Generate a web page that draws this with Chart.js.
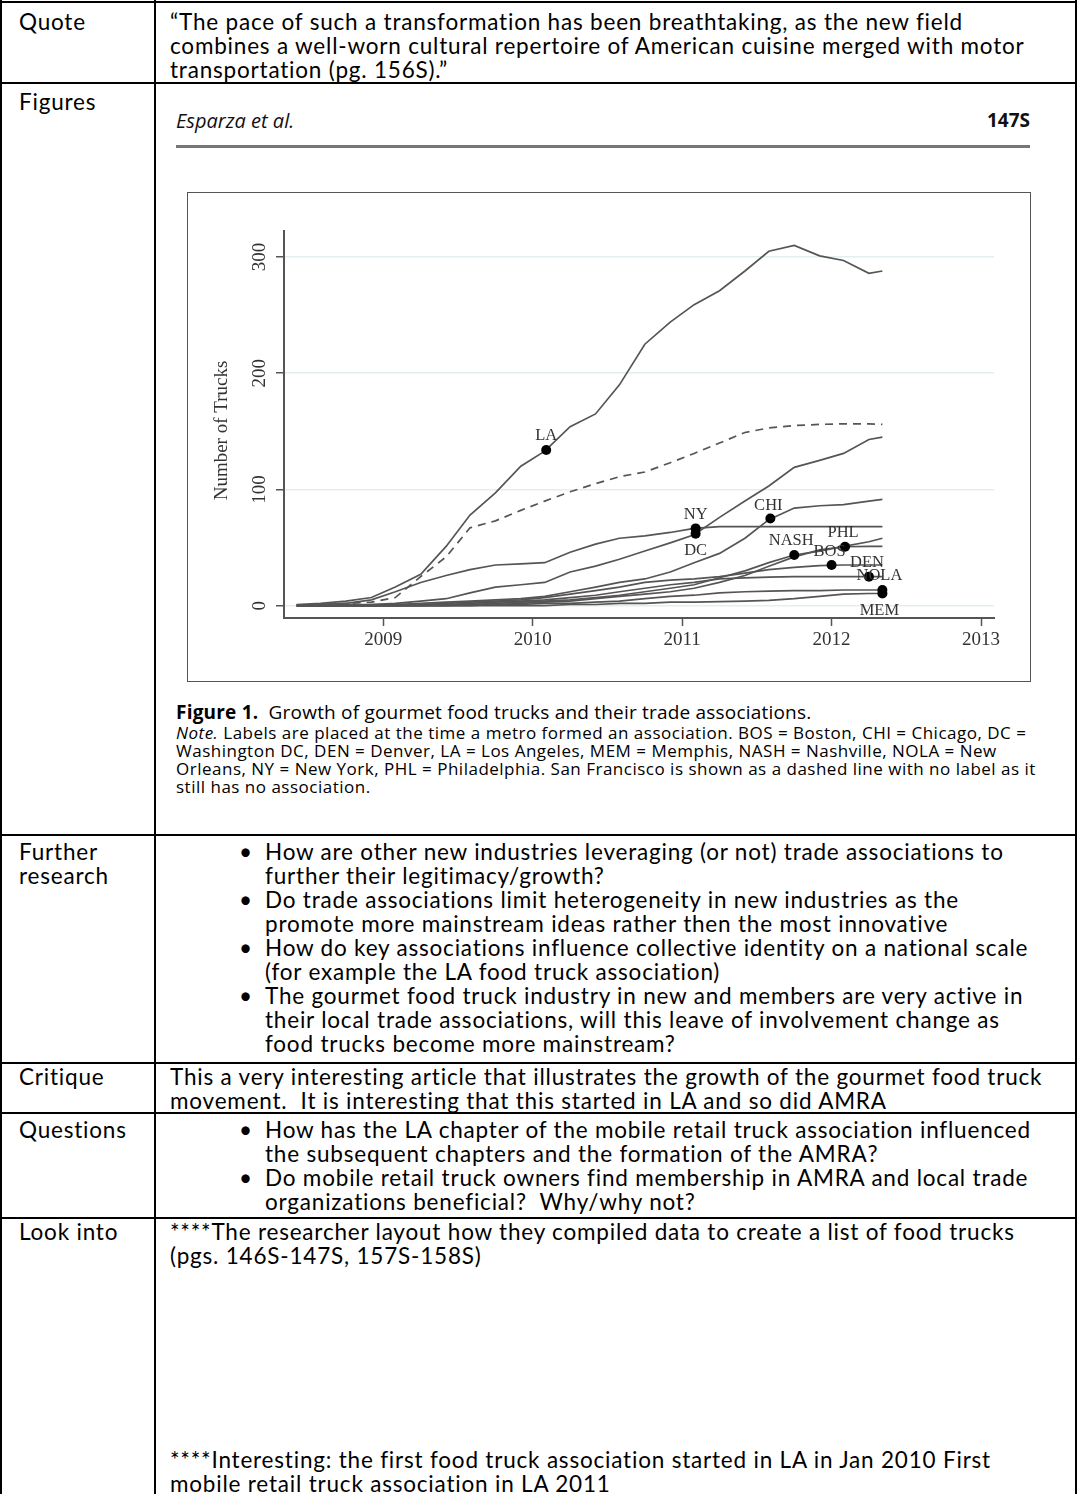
<!DOCTYPE html>
<html>
<head>
<meta charset="utf-8">
<title>Growth of gourmet food trucks</title>
<script src="https://cdn.jsdelivr.net/npm/chart.js@4.4.1/dist/chart.umd.min.js"></script>
<style>
  html, body { margin: 0; padding: 0; background: #fff; }
  body { position: relative; width: 1077px; height: 1494px; overflow: hidden; font-family: Lato, "Open Sans", sans-serif; color: #000; }
  .hl { position: absolute; left: 0; width: 1077px; height: 2px; background: #000; }
  .vl { position: absolute; top: 0; width: 2px; height: 1494px; background: #000; }
  .t { position: absolute; font-size: 22.5px; letter-spacing: 0.8px; line-height: 24px; white-space: nowrap; }
  .lab { left: 19px; }
  .cell { left: 170px; }
  .bl { position: absolute; left: 265px; font-size: 22.5px; letter-spacing: 0.8px; line-height: 24px; white-space: nowrap; }
  .bl p { margin: 0; position: relative; }
  .bl p::before { content: "\2022"; position: absolute; left: -26px; }
  .fig { position: absolute; font-family: "Open Sans", Lato, sans-serif; color: #111; white-space: nowrap; }
</style>
</head>
<body>

<!-- table rules -->
<div class="hl" style="top:1px"></div>
<div class="hl" style="top:82px"></div>
<div class="hl" style="top:834px"></div>
<div class="hl" style="top:1062px"></div>
<div class="hl" style="top:1112px"></div>
<div class="hl" style="top:1217px"></div>
<div class="vl" style="left:0px"></div>
<div class="vl" style="left:154px"></div>
<div class="vl" style="left:1075px"></div>

<!-- row labels -->
<div class="t lab" style="top:10px">Quote</div>
<div class="t lab" style="top:90px">Figures</div>
<div class="t lab" style="top:840px">Further<br>research</div>
<div class="t lab" style="top:1065px">Critique</div>
<div class="t lab" style="top:1118px">Questions</div>
<div class="t lab" style="top:1220px">Look into</div>

<!-- quote -->
<div class="t cell" style="top:10px">“The pace of such a transformation has been breathtaking, as the new field<br>combines a well-worn cultural repertoire of American cuisine merged with motor<br>transportation (pg. 156S).”</div>

<!-- figure -->
<div class="fig" style="left:176px; top:107px; font-size:20px; font-style:italic;">Esparza et al.</div>
<div class="fig" style="right:47px; top:107px; font-size:19px; font-weight:bold;">147S</div>
<div style="position:absolute; left:176px; top:145px; width:854px; height:3px; background:#777;"></div>
<div style="position:absolute; left:187px; top:192px; width:842px; height:488px; border:1.5px solid #555;"></div>
<canvas id="chart" width="842" height="487" style="position:absolute; left:189px; top:194px;"></canvas>
<div class="fig" style="left:176px; top:699px; font-size:19px; letter-spacing:0.2px; color:#000;"><b>Figure 1.</b>&nbsp; Growth of gourmet food trucks and their trade associations.</div>
<div class="fig" style="left:176px; top:724px; font-size:17px; letter-spacing:0.5px; line-height:18px; color:#000;"><i>Note.</i> Labels are placed at the time a metro formed an association. BOS = Boston, CHI = Chicago, DC =<br>Washington DC, DEN = Denver, LA = Los Angeles, MEM = Memphis, NASH = Nashville, NOLA = New<br>Orleans, NY = New York, PHL = Philadelphia. San Francisco is shown as a dashed line with no label as it<br>still has no association.</div>

<!-- further research -->
<div class="bl" style="top:840px">
  <p>How are other new industries leveraging (or not) trade associations to<br>further their legitimacy/growth?</p>
  <p>Do trade associations limit heterogeneity in new industries as the<br>promote more mainstream ideas rather then the most innovative</p>
  <p>How do key associations influence collective identity on a national scale<br>(for example the LA food truck association)</p>
  <p>The gourmet food truck industry in new and members are very active in<br>their local trade associations, will this leave of involvement change as<br>food trucks become more mainstream?</p>
</div>

<!-- critique -->
<div class="t cell" style="top:1065px">This a very interesting article that illustrates the growth of the gourmet food truck<br>movement.&nbsp; It is interesting that this started in LA and so did AMRA</div>

<!-- questions -->
<div class="bl" style="top:1118px">
  <p>How has the LA chapter of the mobile retail truck association influenced<br>the subsequent chapters and the formation of the AMRA?</p>
  <p>Do mobile retail truck owners find membership in AMRA and local trade<br>organizations beneficial?&nbsp; Why/why not?</p>
</div>

<!-- look into -->
<div class="t cell" style="top:1220px">****The researcher layout how they compiled data to create a list of food trucks<br>(pgs. 146S-147S, 157S-158S)</div>
<div class="t cell" style="top:1448px">****Interesting: the first food truck association started in LA in Jan 2010 First<br>mobile retail truck association in LA 2011</div>

<script>
// month positions (decimal years) shared by all series
const years = [2008.42, 2008.58, 2008.75, 2008.92, 2009.08, 2009.25, 2009.42, 2009.58, 2009.75, 2009.92,
               2010.08, 2010.25, 2010.42, 2010.58, 2010.75, 2010.92, 2011.08, 2011.25, 2011.42, 2011.58,
               2011.75, 2011.92, 2012.08, 2012.25, 2012.34];

// number of trucks per metro
const laTrucks   = [1, 2, 4, 7, 16, 27, 51, 78, 97, 120, 133, 154, 165, 190, 225, 244, 259, 271, 288, 305, 310, 301, 297, 286, 288];
const sfTrucks   = [0.5, 1, 2, 3, 7, 25, 42, 67, 73, 82, 90, 98, 105, 111, 115, 123, 131, 140, 149, 153, 155, 156, 156.5, 156.5, 156];
const nyTrucks   = [0.5, 1, 2, 5, 12, 20, 26, 31, 35, 36, 37, 46, 53, 58, 60, 63, 66.5, 68, 68, 68, 68, 68, 68, 68, 68];
const dcTrucks   = [0, 0, 1, 1, 2, 4, 6, 11, 16, 18, 20, 29, 34, 40, 47, 54, 61, 76, 90, 103, 119, 125, 131, 143, 145];
const chiTrucks  = [0, 0, 0, 1, 1, 2, 3, 4, 5, 6, 8, 12, 16, 20, 23, 29, 37, 45, 58, 74, 84, 86, 87, 90, 91.5];
const nashTrucks = [0, 0, 0, 0, 0, 0, 1, 1, 2, 3, 4, 5, 7, 9, 12, 15, 18, 24, 30, 37, 43.6, 47, 51, 55, 58];
const phlTrucks  = [0, 0, 0, 0, 0, 0, 0, 1, 1, 2, 3, 4, 6, 8, 10, 12, 15, 20, 26, 34, 42, 48, 50.7, 51, 51];
const bosTrucks  = [0, 0, 0, 0, 1, 1, 2, 3, 4, 5, 7, 10, 13, 16, 20, 22, 23, 25, 28, 31, 33, 34.5, 35, 35, 35];
const denTrucks  = [0, 0, 0, 0, 0, 1, 1, 2, 3, 4, 5, 7, 9, 12, 15, 18, 20, 23, 24, 24.5, 25, 25, 25, 25, 25];
const nolaTrucks = [0, 0, 0, 0, 0, 0, 0, 0, 1, 1, 2, 2, 3, 4, 6, 8, 9, 11, 12, 12.5, 13, 13, 13.5, 13.5, 13.5];
const memTrucks  = [0, 0, 0, 0, 0, 0, 0, 0, 0, 0, 0, 1, 1, 2, 2, 3, 3, 3.5, 4, 4.5, 6, 8, 10, 10.5, 10.5];

// when each metro formed an association
const assocCities = ['LA', 'NY', 'DC', 'CHI', 'NASH', 'PHL', 'BOS', 'DEN', 'NOLA', 'MEM'];
const assocYears  = [2010.09, 2011.09, 2011.09, 2011.59, 2011.75, 2012.09, 2012.0, 2012.25, 2012.34, 2012.34];
const assocTrucks = [134, 66.5, 62, 75, 43.6, 50.7, 35, 25, 13.5, 10.5];

const xTicks = [2009, 2010, 2011, 2012, 2013];
const yTicks = [0, 100, 200, 300];

const lineColor = '#555';
const serif = '"Liberation Serif", "DejaVu Serif", serif';

function series(values) {
  return years.map((x, i) => ({ x: x, y: values[i] }));
}

const lineSets = [
  { label: 'LA', data: series(laTrucks) },
  { label: 'SF', data: series(sfTrucks), borderDash: [8, 6] },
  { label: 'NY', data: series(nyTrucks) },
  { label: 'DC', data: series(dcTrucks) },
  { label: 'CHI', data: series(chiTrucks) },
  { label: 'NASH', data: series(nashTrucks) },
  { label: 'PHL', data: series(phlTrucks) },
  { label: 'BOS', data: series(bosTrucks) },
  { label: 'DEN', data: series(denTrucks) },
  { label: 'NOLA', data: series(nolaTrucks) },
  { label: 'MEM', data: series(memTrucks) }
].map(d => Object.assign({
  type: 'line', borderColor: lineColor, borderWidth: 1.7, pointRadius: 0,
  fill: false, tension: 0, order: 1
}, d));

const dotSet = {
  type: 'scatter', label: 'associations', order: 0,
  data: assocYears.map((x, i) => ({ x: x, y: assocTrucks[i] })),
  pointRadius: 5, backgroundColor: '#000', borderWidth: 0
};

// label offsets from each dot, in pixels
const labelOffsets = {
  LA: [0, -14], NY: [0, -14], DC: [0, 17], CHI: [-2, -13], NASH: [-3, -14],
  PHL: [-2, -14], BOS: [-2, -13], DEN: [-2, -14], NOLA: [-3, -14], MEM: [-3, 17]
};

const annotate = {
  id: 'annotate',
  afterDraw(chart) {
    const ctx = chart.ctx;
    const xs = chart.scales.x;
    const ys = chart.scales.y;
    ctx.save();
    ctx.fillStyle = '#333';
    ctx.textAlign = 'center';
    ctx.textBaseline = 'middle';

    // metro labels next to the dots
    ctx.font = '16.5px ' + serif;
    assocCities.forEach((name, i) => {
      const off = labelOffsets[name];
      ctx.fillText(name, xs.getPixelForValue(assocYears[i]) + off[0], ys.getPixelForValue(assocTrucks[i]) + off[1]);
    });

    // vertical y tick labels
    ctx.font = '19px ' + serif;
    ys.ticks.forEach(t => {
      ctx.save();
      ctx.translate(xs.left - 24, ys.getPixelForValue(t.value));
      ctx.rotate(-Math.PI / 2);
      ctx.fillText(String(t.value), 0, 0);
      ctx.restore();
    });

    // axis title
    ctx.save();
    ctx.translate(xs.left - 62, (chart.chartArea.top + chart.chartArea.bottom) / 2 + 6);
    ctx.rotate(-Math.PI / 2);
    ctx.fillText('Number of Trucks', 0, 0);
    ctx.restore();

    ctx.restore();
  }
};

new Chart(document.getElementById('chart').getContext('2d'), {
  data: { datasets: [dotSet].concat(lineSets) },
  options: {
    responsive: false,
    animation: false,
    layout: { padding: { top: 37, right: 37, left: 0, bottom: 0 } },
    plugins: { legend: { display: false }, tooltip: { enabled: false } },
    scales: {
      x: {
        type: 'linear', min: 2008.335, max: 2013.087,
        afterBuildTicks: s => { s.ticks = xTicks.map(v => ({ value: v })); },
        afterFit: s => { s.height = 63; },
        grid: { drawOnChartArea: false, drawTicks: true, tickLength: 8, tickColor: '#555', tickWidth: 1.5 },
        border: { color: '#555', width: 2 },
        ticks: { color: '#333', font: { family: serif, size: 19 }, padding: 3, maxRotation: 0, callback: v => String(v) }
      },
      y: {
        type: 'linear', min: -10.6, max: 322.4,
        afterBuildTicks: s => { s.ticks = yTicks.map(v => ({ value: v })); },
        afterFit: s => { s.width = 95; },
        grid: { color: '#e3eef0', lineWidth: 1.5, tickLength: 8, tickColor: '#555', tickWidth: 1.5 },
        border: { color: '#555', width: 2 },
        ticks: { display: false }
      }
    }
  },
  plugins: [annotate]
});
</script>
</body>
</html>
